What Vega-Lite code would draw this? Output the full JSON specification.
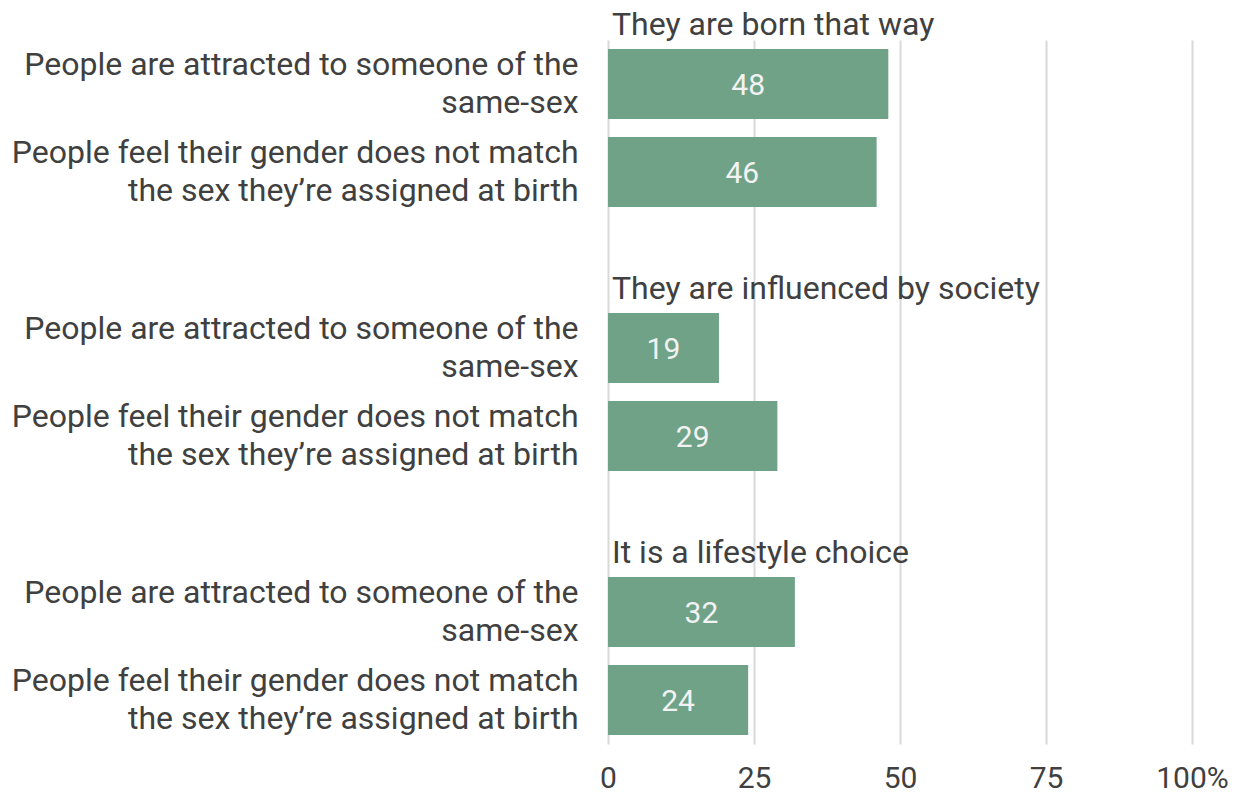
{
  "$schema": "https://vega.github.io/schema/vega-lite/v6.json",
  "autosize": "none",
  "width": 584,
  "height": 704,
  "padding": {"left": 608, "top": 40, "right": 58, "bottom": 52},
  "background": "white",
  "config": {
    "view": {"stroke": null},
    "font": "Roboto",
    "axis": {"labelFont": "Roboto", "labelColor": "#404040"}
  },
  "datasets": {
    "bars": [
      {"key": "g1|People are attracted to someone of the|same-sex", "value": 48},
      {"key": "g1|People feel their gender does not match|the sex they’re assigned at birth", "value": 46},
      {"key": "g2|People are attracted to someone of the|same-sex", "value": 19},
      {"key": "g2|People feel their gender does not match|the sex they’re assigned at birth", "value": 29},
      {"key": "g3|People are attracted to someone of the|same-sex", "value": 32},
      {"key": "g3|People feel their gender does not match|the sex they’re assigned at birth", "value": 24}
    ],
    "titles": [
      {"key": "g1|People are attracted to someone of the|same-sex", "title": "They are born that way"},
      {"key": "g2|People are attracted to someone of the|same-sex", "title": "They are influenced by society"},
      {"key": "g3|People are attracted to someone of the|same-sex", "title": "It is a lifestyle choice"}
    ]
  },
  "layer": [
    {
      "data": {"name": "bars"},
      "mark": {"type": "bar", "color": "#6fa287"},
      "encoding": {
        "y": {
          "field": "key",
          "type": "nominal",
          "scale": {
            "domain": [
              "g1|People are attracted to someone of the|same-sex",
              "g1|People feel their gender does not match|the sex they’re assigned at birth",
              "s1",
              "g2|People are attracted to someone of the|same-sex",
              "g2|People feel their gender does not match|the sex they’re assigned at birth",
              "s2",
              "g3|People are attracted to someone of the|same-sex",
              "g3|People feel their gender does not match|the sex they’re assigned at birth"
            ],
            "paddingInner": 0.2045,
            "paddingOuter": 0.1023
          },
          "axis": {
            "title": null,
            "domain": false,
            "ticks": false,
            "labelPadding": 30,
            "labelFontSize": 32,
            "labelLineHeight": 38,
            "labelOffset": -19,
            "labelLimit": 0,
            "labelExpr": "slice(split(datum.label, '|'), 1)"
          }
        },
        "x": {
          "field": "value",
          "type": "quantitative",
          "scale": {"domain": [0, 100]},
          "axis": {
            "title": null,
            "values": [0, 25, 50, 75, 100],
            "labelExpr": "datum.value == 100 ? '100%' : datum.label",
            "domain": false,
            "ticks": false,
            "grid": true,
            "gridColor": "#d9d9d9",
            "gridWidth": 2,
            "labelFontSize": 30,
            "labelPadding": 19,
            "labelFlush": false
          }
        }
      }
    },
    {
      "data": {"name": "bars"},
      "mark": {"type": "text", "color": "#f2f2f2", "fontSize": 30, "font": "Roboto", "baseline": "middle", "align": "center", "dy": 2},
      "encoding": {
        "y": {"field": "key", "type": "nominal"},
        "x": {"field": "value", "type": "quantitative", "stack": "zero", "bandPosition": 0.5},
        "text": {"field": "value", "type": "quantitative"}
      }
    },
    {
      "data": {"name": "titles"},
      "mark": {"type": "text", "color": "#404040", "fontSize": 32, "font": "Roboto", "baseline": "alphabetic", "align": "left", "dx": 4, "dy": -14},
      "encoding": {
        "y": {"field": "key", "type": "nominal", "bandPosition": 0},
        "x": {"datum": 0},
        "text": {"field": "title"}
      }
    }
  ]
}
